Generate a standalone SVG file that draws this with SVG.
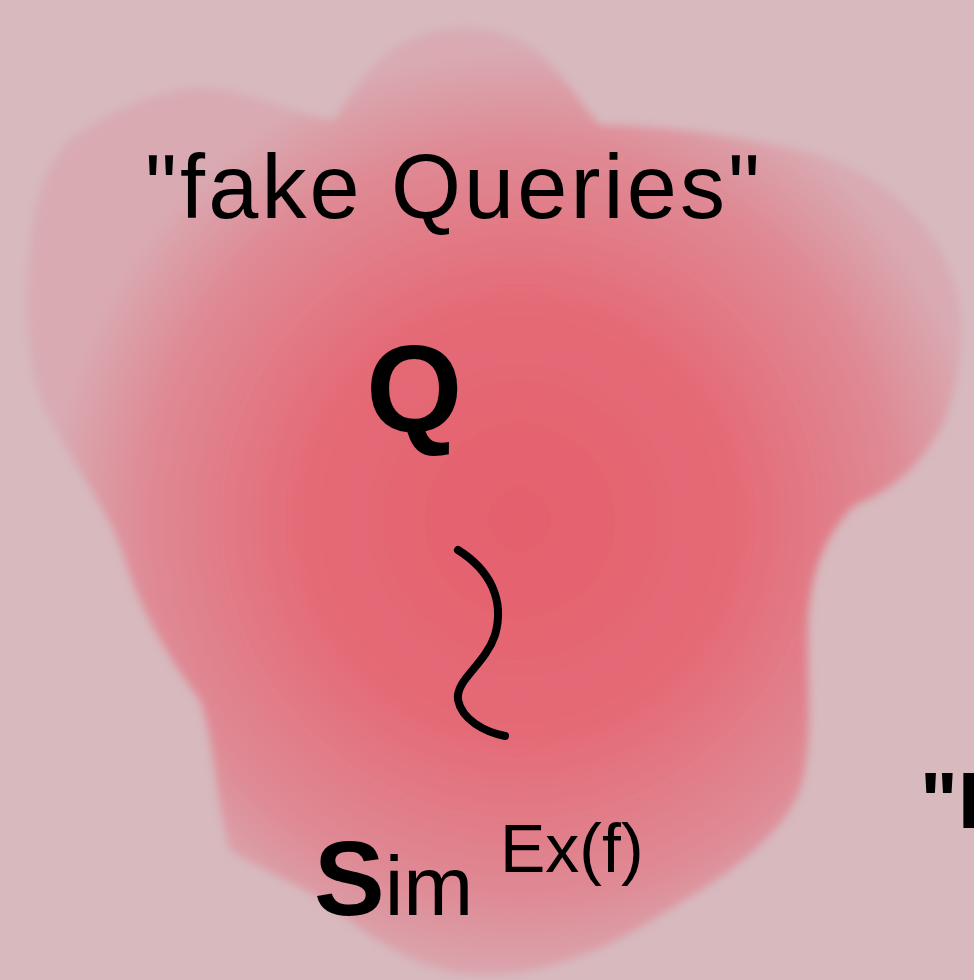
<svg xmlns="http://www.w3.org/2000/svg" width="974" height="980" viewBox="0 0 974 980">
<defs>
<radialGradient id="g" cx="520" cy="520" r="470" gradientUnits="userSpaceOnUse">
<stop offset="0" stop-color="#e5606d"/>
<stop offset="0.45" stop-color="#e46a76"/>
<stop offset="0.8" stop-color="#df8a95"/>
<stop offset="1" stop-color="#d9aab2"/>
</radialGradient>
<filter id="soft" x="-10%" y="-10%" width="120%" height="120%"><feGaussianBlur stdDeviation="4"/></filter>
<style>
.hand{font-family:"Liberation Sans","DejaVu Sans",sans-serif;fill:#000;}
</style>
</defs>
<rect width="974" height="980" fill="#d7b9be"/>
<g id="blob">
<path filter="url(#soft)" fill="url(#g)" d="M70,140 C110,110 150,95 190,88 C240,85 290,115 335,120 C350,95 375,55 410,40 C450,22 500,25 535,50 C565,75 585,110 600,125 C660,125 730,135 800,150 C860,165 915,200 945,260 C968,310 965,360 945,420 C925,460 895,490 855,505 C830,530 812,560 808,620 C806,680 815,740 800,790 C780,840 720,880 660,915 C600,955 520,985 450,972 C400,960 360,930 330,905 C310,890 280,880 230,850 C215,800 215,740 200,700 C170,660 140,610 125,560 C110,510 70,460 45,410 C25,360 25,300 30,250 C35,200 45,165 70,140 Z"/>
</g>
<g id="label-fake">
<text class="hand" x="145" y="218" font-size="90" textLength="615" lengthAdjust="spacing">"fake Queries"</text>
</g>
<g id="Q">
<text class="hand" x="366" y="432" font-size="124" font-weight="bold">Q</text>
</g>
<g id="squiggle">
<path d="M458,550 C490,570 505,600 495,635 C485,665 455,680 458,700 C462,720 485,732 505,736" fill="none" stroke="#000" stroke-width="8" stroke-linecap="round"/>
</g>
<g id="sim">
<text class="hand" x="314" y="915" font-size="106" font-weight="bold">S<tspan font-size="84" font-weight="normal">im</tspan></text>
<text class="hand" x="500" y="872" font-size="68">Ex(f)</text>
</g>
<g id="label-real">
<text class="hand" x="920" y="828" font-size="80" font-weight="bold">"I</text>
</g>
</svg>
